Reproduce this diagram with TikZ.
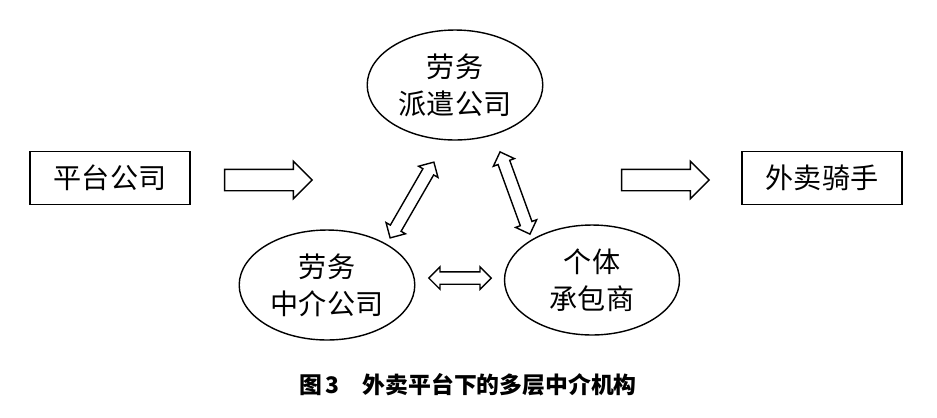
\documentclass[tikz,border=0pt]{standalone}
\usepackage{fontspec}
\newfontfamily\cjk{Noto Sans CJK SC}
\usetikzlibrary{shapes.geometric,shapes.arrows,positioning}

\begin{document}
\begin{tikzpicture}[
			x=0.02cm,y=-0.02cm,
			every node/.style={font=\cjk\fontsize{16}{21}\selectfont},
			firm/.style={draw,thick,ellipse,minimum width=3.5cm,minimum height=2.2cm,align=center},
			party/.style={draw,thick,minimum width=3.2cm,minimum height=1.05cm},
			fatarrow/.style={draw,thick,single arrow,minimum height=1.75cm,inner xsep=0pt,inner ysep=0.2cm,single arrow head extend=0.16cm},
			twoarrow/.style={draw,thick,double arrow,minimum height=1.75cm,inner xsep=0pt,inner ysep=0.11cm,double arrow head extend=0.1cm}
			]

			\useasboundingbox (0,0) rectangle (937,417);

			% the two ends
			\node[party] (platform) at (110,178) {平台公司};
			\node[party] (rider) at (822,178) {外卖骑手};

			% intermediaries
			\node[firm] (dispatch) at (455,85) {劳务\\派遣公司};
			\node[firm] (agency) at (327,285) {劳务\\中介公司};
			\node[firm] (contractor) at (592,280) {个体\\承包商};

			% arrows
			\node[fatarrow] (inarrow) at (263,180) {};
			\node[fatarrow] (outarrow) at (660,180) {};
			\node[twoarrow,minimum height=1.25cm] (bottomlink) at (460,278) {};
			\node[twoarrow,rotate=60] (leftlink) at (412,200) {};
			\node[twoarrow,rotate=-70] (rightlink) at (515,193) {};

			% caption
			\node[font=\cjk\bfseries\fontsize{13}{16}\selectfont] (caption) at (468,385) {图\,3\quad 外卖平台下的多层中介机构};

		\end{tikzpicture}
\end{document}
